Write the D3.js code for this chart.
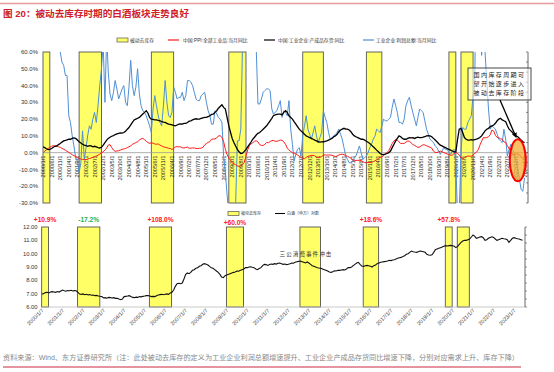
<!DOCTYPE html>
<html><head><meta charset="utf-8">
<script src="https://cdn.jsdelivr.net/npm/d3@7"></script>
<style>body{margin:0;background:#fff;} svg{display:block;font-family:"Liberation Sans","Noto Sans CJK SC",sans-serif;}</style>
</head><body><svg id="c" width="554" height="372"></svg>
<script>
const title = "图 20：被动去库存时期的白酒板块走势良好";
const source = "资料来源：Wind、东方证券研究所（注：此处被动去库存的定义为工业企业利润总额增速提升、工业企业产成品存货同比增速下降，分别对应需求上升、库存下降）";
const topLegend = ["被动去库存","中国:PPI:全部工业品:当月同比","中国:工业企业:产成品存货:同比","工业企业:利润总额:当月同比"];
const bottomLegend = ["被动去库存","白酒（申万）对数"];
const noteText = ["国内库存周期可","望开始逐步进入","被动去库存阶段"];
const eventText = "三公消费事件冲击";
const startMonth = "2000-01";
// 中国:PPI:全部工业品:当月同比 (%), monthly from 2000-01
const ppi = [
0.0,0.9,1.7,2.5,3.2,3.8,4.2,4.0,3.8,3.5,3.2,2.6,
2.0,1.5,0.8,0.2,-0.5,-1.2,-1.8,-2.3,-3.0,-3.5,-3.8,-4.0,
-4.2,-4.2,-3.8,-3.5,-3.2,-2.8,-2.4,-2.0,-1.5,-0.8,-0.2,0.5,
1.5,2.8,4.5,4.8,3.0,1.5,0.8,1.0,1.2,1.5,2.0,2.2,
2.5,3.0,3.5,4.0,5.0,5.5,6.0,6.5,7.5,8.2,8.5,7.8,
6.8,6.0,5.6,5.8,5.7,5.2,5.0,5.2,4.5,4.0,3.5,3.2,
3.0,2.6,2.5,1.9,2.4,3.5,3.6,3.4,3.5,2.9,2.8,3.1,
3.3,2.6,2.7,2.8,2.8,2.5,2.4,2.6,2.7,3.2,4.6,5.4,
6.1,6.6,8.0,8.1,8.2,8.8,10.0,10.1,9.1,6.6,2.0,-1.1,
-3.3,-4.5,-6.0,-6.6,-7.2,-7.8,-8.2,-7.9,-7.0,-5.8,-2.1,1.7,
4.3,5.4,5.9,6.8,7.1,6.4,4.8,4.3,4.3,5.0,6.1,5.9,
6.6,7.2,7.3,6.8,6.8,7.1,7.5,7.3,6.5,5.0,2.7,1.7,
0.7,0.0,-0.3,-0.7,-1.4,-2.1,-2.9,-3.5,-3.6,-2.8,-2.2,-1.9,
-1.6,-1.6,-1.9,-2.6,-2.9,-2.7,-2.3,-1.6,-1.3,-1.5,-1.4,-1.4,
-1.6,-2.0,-2.3,-2.0,-1.4,-1.1,-0.9,-1.2,-1.8,-2.2,-2.7,-3.3,
-4.3,-4.8,-4.6,-4.6,-4.6,-4.8,-5.4,-5.9,-5.9,-5.9,-5.9,-5.9,
-5.3,-4.9,-4.3,-3.4,-2.8,-2.6,-1.7,-0.8,0.1,1.2,3.3,5.5,
6.9,7.8,7.6,6.4,5.5,5.5,5.5,6.3,6.9,6.9,5.8,4.9,
4.3,3.7,3.1,3.4,4.1,4.7,4.6,4.1,3.6,3.3,2.7,0.9,
0.1,0.1,0.4,0.9,0.6,0.0,-0.3,-0.8,-1.2,-1.6,-1.4,-0.5,
0.1,-0.4,-1.5,-3.1,-3.7,-3.0,-2.4,-2.0,-2.1,-2.1,-1.5,-0.4,
0.3,1.7,4.4,6.8,9.0,8.8,9.0,9.5,10.7,13.5,12.9,10.3,
9.1,8.8,8.3,8.0,6.4,6.1,4.2,2.3,0.9,-1.3,-1.3,-0.7,
-0.8,-1.4,-2.5,-3.6,-4.6];
// 中国:工业企业:产成品存货:同比 (%)
const inventory = [
3.5,3.0,2.3,1.8,2.0,2.5,3.2,3.8,4.0,4.8,5.5,6.3,
7.0,7.3,7.6,8.0,8.0,8.5,8.8,8.5,7.5,6.5,5.8,5.0,
4.5,4.2,3.8,4.2,4.0,3.5,3.8,3.4,3.0,2.8,3.2,4.5,
6.0,7.5,8.5,9.2,9.8,10.2,10.8,11.2,11.5,11.8,11.7,12.0,
12.8,14.0,15.0,16.5,18.0,19.5,20.0,20.5,21.0,22.0,23.0,24.0,
25.0,23.5,21.0,20.0,19.8,19.5,19.5,19.2,19.0,18.5,18.2,18.0,
17.5,17.0,16.8,16.5,16.2,16.0,16.5,17.0,17.2,17.0,17.5,17.5,
18.0,18.8,19.0,19.5,20.0,20.2,20.0,20.0,20.5,20.8,21.0,21.0,
21.5,22.0,22.8,23.0,24.0,25.0,26.5,27.5,28.5,27.0,26.0,21.0,
16.0,12.0,8.5,6.0,4.0,2.0,0.5,-0.5,-0.3,0.8,2.0,3.5,
5.0,6.5,8.0,9.2,10.5,11.5,12.0,13.0,14.0,15.0,16.0,17.5,
19.0,20.5,22.0,22.5,22.8,23.0,23.0,22.5,24.0,25.0,24.0,22.0,
21.0,20.0,18.5,17.0,15.5,14.0,13.0,12.0,11.0,10.0,9.5,9.0,
8.5,8.0,7.5,7.0,6.5,6.3,6.4,6.5,6.8,7.0,7.5,8.0,
8.5,9.5,10.0,11.0,12.5,13.5,14.0,14.5,14.0,14.0,13.5,12.5,
11.0,10.0,9.5,9.0,8.5,8.0,8.0,7.5,6.8,6.2,5.5,4.5,
3.5,2.5,1.5,0.5,-0.5,-1.0,-1.2,-0.8,-0.5,0.0,1.0,3.0,
5.0,7.0,8.5,10.0,9.5,8.5,8.0,8.0,8.5,9.0,8.8,9.0,
8.5,9.0,9.2,9.0,9.0,9.2,9.5,10.0,10.2,10.0,9.5,8.5,
7.5,6.5,5.5,4.5,4.0,3.5,3.0,2.5,2.0,1.5,1.0,0.5,
0.5,8.0,14.0,14.5,12.0,9.0,8.0,7.5,7.5,7.8,7.5,7.8,
8.0,8.5,9.0,10.0,11.5,13.0,14.0,14.5,15.5,16.0,16.5,17.5,
19.0,20.0,20.5,19.5,19.0,18.5,16.0,14.0,13.0,12.0,10.5,10.0,
9.5,8.5,7.5,6.5,6.0];
// 工业企业:利润总额:当月同比 (%)
const profit = [
95,90,85,100,92,88,96,82,86,72,60,54,
52,46,46,22,18,10,4,-3,-5,-12,-6,13,
-4,3,10,16,14,20,24,18,28,40,50,65,
30,70,48,35,31,36,43,38,32,35,38,40,
30,28,39,55,40,34,39,50,35,28,25,24,
22,19,16,12,26,34,28,22,18,16,28,43,
30,22,21,24,39,36,32,33,33,36,31,34,
43,43,42,40,36,32,31,31,34,35,36,30,
25,22,17,17,25,23,21,20,18,-2,-12,-25,
-37,-35,-33,-34,-32,7,7,14,65,90,110,95,
120,110,100,85,62,29,29,32,36,37,38,38,
37,26,23,24,25,28,31,21,25,24,22,31,
14,5,-5,-1,2,3,-2,10,16,22,14,11,
8,12,16,10,6,9,12,25,21,18,12,8,
9,10,11,12,14,11,8,3,-2,-4,-6,-6,
-5,-3,-2,1,4,0,-4,-3,-2,0,3,5,
8,10,14,13,12,16,20,19,19,20,21,27,
32,28,24,18,18,17,20,28,31,33,28,24,
20,16,21,26,25,24,19,14,11,8,7,6,
4,3,1,-1,1,3,2,2,0,-1,1,2,
-6,-38,-36,0,15,14,14,18,20,22,34,40,
150,120,90,58,70,60,43,26,14,16,15,14,
11,8,7,6,14,8,-2,2,5,2,-1,-5,
-10,-16,-22,-23,-15];
// 白酒（申万）对数, monthly from 2000-01
const baijiu = [
6.95,7.02,7.08,7.10,7.05,7.12,7.15,7.13,7.10,7.16,7.12,7.20,
7.27,7.22,7.18,7.24,7.22,7.25,7.20,7.23,7.22,7.10,6.97,6.95,
6.98,6.92,6.95,6.90,6.93,6.88,6.90,6.85,6.87,6.83,6.80,6.78,
6.68,6.70,6.66,6.72,6.70,6.68,6.70,6.65,6.66,6.60,6.55,6.60,
6.78,6.80,6.82,6.85,6.78,6.72,6.70,6.74,6.72,6.78,6.76,6.80,
6.82,6.85,6.86,6.82,6.78,6.80,6.78,6.85,6.90,6.93,6.95,6.92,
6.95,6.98,6.95,7.05,7.10,7.27,7.55,7.75,7.78,7.75,7.80,8.10,
8.45,8.55,8.50,8.60,8.75,8.80,8.90,8.95,9.05,9.10,9.20,9.25,
9.20,9.15,9.05,8.95,8.90,8.80,8.70,8.60,8.45,8.25,8.20,8.35,
8.40,8.45,8.50,8.55,8.60,8.62,8.70,8.68,8.75,8.80,8.85,8.95,
8.95,9.00,9.02,8.98,8.95,8.85,8.80,8.88,8.95,9.10,9.20,9.18,
9.12,9.18,9.22,9.20,9.25,9.22,9.28,9.30,9.25,9.20,9.22,9.18,
9.20,9.25,9.30,9.28,9.35,9.40,9.42,9.45,9.40,9.35,9.30,9.38,
9.30,9.20,9.10,9.05,9.00,8.95,8.92,8.90,8.85,8.80,8.75,8.70,
8.62,8.60,8.65,8.72,8.70,8.76,8.75,8.78,8.80,8.78,8.85,8.95,
8.95,9.00,9.10,9.20,9.30,9.35,9.20,9.07,9.05,9.10,9.12,9.10,
9.05,9.00,9.10,9.15,9.25,9.30,9.35,9.38,9.40,9.42,9.45,9.50,
9.48,9.52,9.55,9.60,9.65,9.70,9.72,9.78,9.85,9.95,10.00,10.10,
10.20,10.15,10.12,10.10,10.15,10.20,10.18,10.15,10.10,9.95,9.90,9.88,
9.92,10.10,10.30,10.35,10.40,10.45,10.50,10.55,10.60,10.58,10.60,10.62,
10.60,10.55,10.45,10.55,10.70,10.85,10.95,11.00,11.00,11.05,11.10,11.25,
11.40,11.30,11.15,11.20,11.25,11.28,11.20,11.00,11.05,11.15,11.22,11.27,
11.22,11.10,11.00,11.05,11.10,11.15,11.12,11.10,11.05,10.85,11.00,11.15,
11.20,11.15,11.12,11.10,11.05,11.00];
// 被动去库存 periods
const bandStarts = ["2000-01","2001-10","2005-04","2009-01","2012-08","2015-09","2019-09","2020-04"];
const bandEnds   = ["2000-05","2002-11","2006-05","2009-11","2013-08","2016-06","2020-01","2020-11"];
const bandReturnBand  = [0,1,2,3,5,6];
const bandReturnLabel = ["+10.9%","-17.2%","+108.0%","+60.0%","+18.6%","+57.8%"];
const topYTicks = [60,50,40,30,20,10,0,-10,-20,-30];
const bottomYTicks = [12,11,10,9,8,7,6];
const bottomXYears = d3.range(2000,2024);

const svg = d3.select("#c");
const parseM = d3.timeParse("%Y-%m");
const t0 = parseM(startMonth);
const monthDate = i => d3.timeMonth.offset(t0, i);
const C = {red:"#ff1a1a", blue:"#4f8fd6", black:"#000", yellow:"#ffff66", band:"#555"};

// header
svg.append("line").attr("x1",0).attr("x2",554).attr("y1",3.5).attr("y2",3.5).attr("stroke","#e89a9a").attr("stroke-width",1.5);
svg.append("text").attr("x",3).attr("y",16.5).attr("font-size",9.6).attr("font-weight","bold").attr("fill","#d0202a").text(title);

// ===== top chart =====
const T = {l:43, r:528, t:52, b:203};
const xTop = d3.scaleTime().domain([t0, new Date(2023,6,1)]).range([T.l, T.r]);
const yTop = d3.scaleLinear().domain([-30,60]).range([T.b, T.t]);
const gT = svg.append("g");
svg.append("clipPath").attr("id","clipT").append("rect").attr("x",T.l).attr("y",T.t).attr("width",T.r-T.l).attr("height",T.b-T.t);

bandStarts.forEach((s,i)=>{
  const x0 = xTop(parseM(s)), x1 = xTop(parseM(bandEnds[i]));
  gT.append("rect").attr("x",x0).attr("y",T.t).attr("width",x1-x0).attr("height",T.b-T.t)
    .attr("fill",C.yellow).attr("stroke",C.band).attr("stroke-width",0.9);
});
topYTicks.forEach(v=>{
  gT.append("text").attr("x",38).attr("y",yTop(v)).attr("dy","0.35em").attr("text-anchor","end")
    .attr("font-size",6).attr("fill","#333").text(v.toFixed(1)+"%");
});
gT.append("line").attr("x1",T.l).attr("x2",T.r).attr("y1",yTop(0)).attr("y2",yTop(0)).attr("stroke","#999").attr("stroke-width",0.8);
d3.range(0,ppi.length,5).forEach(i=>{
  const d = monthDate(i);
  gT.append("text").attr("transform",`translate(${xTop(d)},${yTop(0)+3}) rotate(-90)`)
    .attr("text-anchor","end").attr("dy","0.35em").attr("font-size",5.6).attr("fill","#222")
    .text(`${d.getFullYear()}/${d.getMonth()+1}/1`);
});
const lineT = d3.line().x((d,i)=>xTop(monthDate(i))).y(d=>yTop(d));
const gl = gT.append("g").attr("clip-path","url(#clipT)");
gl.append("path").attr("d",lineT(profit)).attr("fill","none").attr("stroke",C.blue).attr("stroke-width",1);
gl.append("path").attr("d",lineT(ppi)).attr("fill","none").attr("stroke",C.red).attr("stroke-width",1);
gl.append("path").attr("d",lineT(inventory)).attr("fill","none").attr("stroke",C.black).attr("stroke-width",1.3);
// right axis
gT.append("line").attr("x1",T.r).attr("x2",T.r).attr("y1",T.t).attr("y2",T.b).attr("stroke","#444").attr("stroke-width",0.8);
d3.range(0,16).forEach(k=>{
  const y = T.t + k*(T.b-T.t)/15;
  gT.append("line").attr("x1",T.r-2).attr("x2",T.r).attr("y1",y).attr("y2",y).attr("stroke","#444").attr("stroke-width",0.6);
});
// legend top
const lg = svg.append("g").attr("font-size",4.8).attr("fill","#333");
lg.append("rect").attr("x",117).attr("y",38).attr("width",11).attr("height",4).attr("fill",C.yellow).attr("stroke",C.band).attr("stroke-width",0.7);
lg.append("text").attr("x",130).attr("y",40).attr("dy","0.35em").text(topLegend[0]);
[[168,C.red,183,1],[264,C.black,278,2],[363,C.blue,376,3]].forEach(([x,c,tx,k])=>{
  lg.append("line").attr("x1",x).attr("x2",x+11).attr("y1",40).attr("y2",40).attr("stroke",c).attr("stroke-width",1.2);
  lg.append("text").attr("x",tx).attr("y",40).attr("dy","0.35em").text(topLegend[k]);
});
// annotation: ellipse, box, arrow
const ex = xTop(parseM("2023-01")), ey = yTop(-4.5);
gT.append("ellipse").attr("cx",ex).attr("cy",ey).attr("rx",8).attr("ry",21)
  .attr("fill","#f5a623").attr("fill-opacity",0.7).attr("stroke","#ff0000").attr("stroke-width",2);
gT.append("rect").attr("x",468).attr("y",68).attr("width",63).attr("height",32)
  .attr("fill","#fff").attr("fill-opacity",0.55).attr("stroke","#333").attr("stroke-width",0.9);
noteText.forEach((t,i)=>{
  gT.append("text").attr("x",499.5).attr("y",75+i*9).attr("dy","0.35em").attr("text-anchor","middle")
    .attr("font-size",6).attr("letter-spacing",1.4).attr("fill","#222")
    .attr("font-family","'Noto Sans CJK SC'").text(t);
});
svg.append("defs").append("marker").attr("id","arr").attr("viewBox","0 0 10 10").attr("refX",8).attr("refY",5)
  .attr("markerWidth",4).attr("markerHeight",4).attr("orient","auto")
  .append("path").attr("d","M0,0L10,5L0,10z").attr("fill","#000");
gT.append("line").attr("x1",500).attr("y1",100).attr("x2",516).attr("y2",137)
  .attr("stroke","#000").attr("stroke-width",1.3).attr("marker-end","url(#arr)");

// ===== bottom chart =====
const B = {l:42, r:525, t:227, b:307};
const xBot = d3.scaleTime().domain([new Date(2000,0,7), new Date(2023,6,20)]).range([B.l,B.r]);
const yBot = d3.scaleLinear().domain([6,12]).range([B.b,B.t]);
const gB = svg.append("g");
bandStarts.forEach((s,i)=>{
  const x0 = xBot(parseM(s)), x1 = xBot(parseM(bandEnds[i]));
  gB.append("rect").attr("x",x0).attr("y",B.t).attr("width",x1-x0).attr("height",B.b-B.t)
    .attr("fill",C.yellow).attr("stroke",C.band).attr("stroke-width",0.9);
});
bandReturnBand.forEach((b,k)=>{
  const x0 = xBot(parseM(bandStarts[b])), x1 = xBot(parseM(bandEnds[b]));
  const lab = bandReturnLabel[k];
  gB.append("text").attr("x",(x0+x1)/2).attr("y",b===3?224.5:222).attr("text-anchor","middle")
    .attr("font-size",6.6).attr("font-weight","bold").attr("fill",lab[0]==="-"?"#22b04a":"#ff2020").text(lab);
});
gB.append("line").attr("x1",B.l).attr("x2",B.r).attr("y1",B.b).attr("y2",B.b).attr("stroke","#bbb").attr("stroke-width",0.8);
bottomYTicks.forEach(v=>{
  gB.append("text").attr("x",37.5).attr("y",yBot(v)).attr("dy","0.35em").attr("text-anchor","end")
    .attr("font-size",5.8).attr("fill","#333").text(v.toFixed(2));
});
bottomXYears.forEach(yv=>{
  const x = xBot(new Date(yv,0,7));
  gB.append("text").attr("transform",`translate(${x+2},${B.b+4}) rotate(-45)`)
    .attr("text-anchor","end").attr("font-size",5.4).attr("fill","#333").text(`${yv}/1/7`);
});
const lineB = d3.line().x((d,i)=>xBot(d3.timeDay.offset(monthDate(i),6))).y(d=>yBot(d));
gB.append("path").attr("d",lineB(baijiu)).attr("fill","none").attr("stroke","#111").attr("stroke-width",1.1);
gB.append("line").attr("x1",B.r).attr("x2",B.r).attr("y1",B.t).attr("y2",B.b).attr("stroke","#444").attr("stroke-width",0.8);
d3.range(0,11).forEach(k=>{
  const y = B.t + k*(B.b-B.t)/10;
  gB.append("line").attr("x1",B.r).attr("x2",B.r+2).attr("y1",y).attr("y2",y).attr("stroke","#444").attr("stroke-width",0.6);
});
gB.append("text").attr("x",306).attr("y",254).attr("dy","0.35em").attr("text-anchor","middle")
  .attr("font-size",5.6).attr("letter-spacing",1).attr("fill","#333").text(eventText);
// legend bottom
const lb = svg.append("g").attr("font-size",4).attr("fill","#333");
lb.append("rect").attr("x",228).attr("y",211.5).attr("width",11).attr("height",4).attr("fill",C.yellow).attr("stroke",C.band).attr("stroke-width",0.7);
lb.append("text").attr("x",241).attr("y",213.5).attr("dy","0.35em").text(bottomLegend[0]);
lb.append("line").attr("x1",275).attr("x2",285).attr("y1",213.5).attr("y2",213.5).attr("stroke","#000").attr("stroke-width",1);
lb.append("text").attr("x",287).attr("y",213.5).attr("dy","0.35em").text(bottomLegend[1]);

// footer
svg.append("text").attr("x",3).attr("y",360).attr("font-size",6.5).attr("fill","#888")
  .attr("textLength",516).attr("lengthAdjust","spacingAndGlyphs").text(source);
svg.append("line").attr("x1",3).attr("x2",521).attr("y1",367).attr("y2",367).attr("stroke","#c8102e").attr("stroke-width",0.9);
</script></body></html>
